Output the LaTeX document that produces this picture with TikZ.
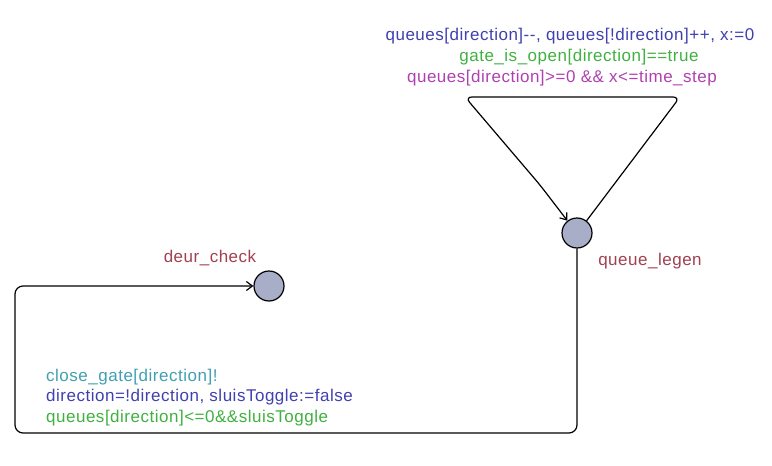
\documentclass[tikz,border=0pt]{standalone}
\usepackage{fontspec}
\setmainfont[LetterSpace=3]{Liberation Sans}
\usetikzlibrary{arrows.meta}
\definecolor{locname}{RGB}{160,64,80}
\definecolor{guardc}{RGB}{64,176,64}
\definecolor{updatec}{RGB}{64,64,176}
\definecolor{syncc}{RGB}{64,160,176}
\definecolor{invc}{RGB}{176,64,176}
\definecolor{locfill}{RGB}{168,174,200}
\tikzset{>/.tip={Straight Barb[length=6pt,width=9pt]},
  loc/.style={circle,draw,line width=1.2pt,fill=locfill,minimum size=30pt,inner sep=0pt},
  lbl/.style={inner sep=0pt,font=\fontsize{17}{20}\selectfont}}

\begin{document}
\begin{tikzpicture}[x=1pt,y=-1pt]
\useasboundingbox (0,0) rectangle (772,466);
\node[loc] (queue_legen) at (577,233) {};
\node[loc] (deur_check) at (269,286) {};

\node[lbl,text=locname] (n-legen) at (650,261) {queue\_legen};
\node[lbl,text=locname] (n-check) at (210,258) {deur\_check};

\node[lbl,text=updatec] (upd1) at (570,36) {queues[direction]{-}{-}, queues[!direction]++, x:=0};
\node[lbl,text=guardc] (grd1) at (579,57) {gate\_is\_open[direction]==true};
\node[lbl,text=invc] (grd2) at (562,78) {queues[direction]>=0 \&\& x<=time\_step};

\node[lbl,text=syncc,anchor=west] (snc2) at (46,377) {close\_gate[direction]!};
\node[lbl,text=updatec,anchor=west] (upd2) at (46,397) {direction=!direction, sluisToggle:=false};
\node[lbl,text=guardc,anchor=west] (grd3) at (46,418) {queues[direction]<=0\&\&sluisToggle};

\coordinate (tr) at (680,97);
\coordinate (tl) at (465,97);
\coordinate (bl) at (15,433);

\draw[->,line width=1.2pt,rounded corners=7pt] (queue_legen.52) -- (tr) -- (tl) -- (540,185) -- (queue_legen.128);
\draw[->,line width=1.2pt,rounded corners=8pt] (queue_legen) |- (bl) |- (deur_check);
\end{tikzpicture}
\end{document}
